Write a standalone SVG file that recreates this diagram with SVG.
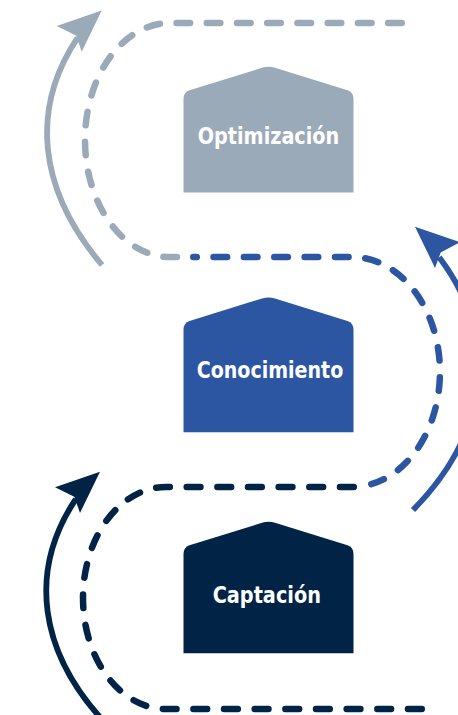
<svg xmlns="http://www.w3.org/2000/svg" width="458" height="715" viewBox="0 0 458 715">
<style>
.dash{fill:none;stroke-width:6.5;stroke-linecap:round;stroke-dasharray:13.5 16.5}
.shaft{fill:none;stroke-width:5.8;stroke-linecap:butt}
.lbl{font-family:"DejaVu Sans Condensed","DejaVu Sans",sans-serif;font-stretch:condensed;font-weight:bold;font-size:23px;fill:#ffffff;text-anchor:middle}
.gray{stroke:#9BAAB8}
.blue{stroke:#2D56A2}
.navy{stroke:#012346}
</style>
<rect width="458" height="715" fill="#ffffff"/>
<g id="connectors">
  <path class="dash gray" pathLength="553.5" d="M401.75,23 H170 A85,117 0 0 0 170,257 H177"/>
  <path class="dash blue" pathLength="453.5" stroke-dashoffset="10" d="M193.25,257 H352 A88,115 0 0 1 371.25,484.2"/>
  <path class="dash navy" pathLength="733.5" d="M353.75,487 H166 A83,111 0 0 0 166,709 H421.75"/>
  <path class="shaft gray" d="M102,265 C37.2,188.5 30.7,108 77.5,37.9"/>
  <polygon fill="#9BAAB8" points="101.7,10.5 56.7,26 76,35.5 81.7,51.7"/>
  <path class="shaft blue" d="M413,510 C492,430 498,335 439.2,257.2"/>
  <polygon fill="#2D56A2" points="415,226.7 460,242.2 440.7,252.5 435,267.9"/>
  <path class="shaft navy" d="M110,728 C36,652 29,569.2 75.8,499.1"/>
  <polygon fill="#012346" points="100,471.7 55,487.2 74.3,496.7 80,512.9"/>
</g>
<g id="node-optimizacion">
  <path fill="#9BAAB8" d="M183.5,192.5 V99 Q183.5,92.5 189.5,90.3 L262,67.8 Q268.5,65.8 275,67.8 L347.5,90.3 Q353.5,92.5 353.5,99 V192.5 Z"/>
  <text class="lbl" x="268.5" y="144.3" textLength="141.5" lengthAdjust="spacingAndGlyphs">Optimización</text>
</g>
<g id="node-conocimiento">
  <path fill="#2D56A2" d="M183.5,432.3 V329.6 Q183.5,323.1 189.5,320.9 L262,298.4 Q268.5,296.4 275,298.4 L347.5,320.9 Q353.5,323.1 353.5,329.6 V432.3 Z"/>
  <text class="lbl" x="270" y="378.3" textLength="146.5" lengthAdjust="spacingAndGlyphs">Conocimiento</text>
</g>
<g id="node-captacion">
  <path fill="#012346" d="M183.5,653.3 V554 Q183.5,547.5 189.5,545.3 L262,522.8 Q268.5,520.8 275,522.8 L347.5,545.3 Q353.5,547.5 353.5,554 V653.3 Z"/>
  <text class="lbl" x="266.8" y="603.3" textLength="108.3" lengthAdjust="spacingAndGlyphs">Captación</text>
</g>
</svg>
